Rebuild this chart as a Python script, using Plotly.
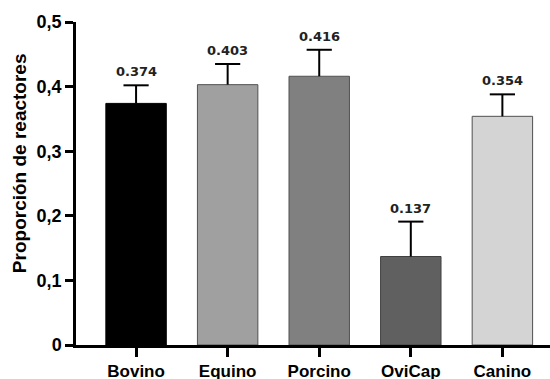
import plotly.graph_objects as go

categories = ["Bovino", "Equino", "Porcino", "OviCap", "Canino"]
values = [0.374, 0.403, 0.416, 0.137, 0.354]
errors = [0.028, 0.032, 0.041, 0.054, 0.034]
bar_colors = ["#000000", "#a0a0a0", "#808080", "#606060", "#d4d4d4"]
line_colors = ["#000000", "#505050", "#505050", "#404040", "#505050"]
value_labels = ["0.374", "0.403", "0.416", "0.137", "0.354"]
y_tickvals = [0, 0.1, 0.2, 0.3, 0.4, 0.5]
y_ticktext = ["0", "0,1", "0,2", "0,3", "0,4", "0,5"]
y_title = "Proporción de reactores"

xs = list(range(len(categories)))
tops = [v + e for v, e in zip(values, errors)]

fig = go.Figure()
fig.add_trace(go.Bar(
    x=xs, y=values,
    marker=dict(color=bar_colors, line=dict(color=line_colors, width=1)),
    width=0.66, hoverinfo="skip",
))
# upper error bars: stem from bar top to value+error, cap at the top
fig.add_trace(go.Scatter(
    x=xs, y=tops, mode="markers",
    marker=dict(symbol="line-ew-open", size=18, color="#000000",
                line=dict(color="#000000", width=2)),
    error_y=dict(type="data", array=[0] * len(errors), arrayminus=errors,
                 symmetric=False, color="#000000", thickness=2, width=0),
    hoverinfo="skip",
))

for xi, top, lab in zip(xs, tops, value_labels):
    fig.add_annotation(
        x=xi, y=top, text="<b>%s</b>" % lab, showarrow=False,
        yanchor="bottom", yshift=4,
        font=dict(family="DejaVu Sans", size=13, color="#222222"),
    )

fig.add_annotation(
    text="<b>%s</b>" % y_title, textangle=-90, showarrow=False,
    xref="paper", yref="paper", x=0, y=0.563, xanchor="center", yanchor="middle",
    xshift=-57, font=dict(size=19, family="Liberation Sans, Arial", color="#000000"),
)

fig.update_layout(
    width=550, height=379,
    margin=dict(l=76, r=0, t=22, b=34),
    plot_bgcolor="white", paper_bgcolor="white",
    showlegend=False,
    font=dict(family="Liberation Sans, Arial", color="#000000"),
)
fig.update_xaxes(
    range=[-0.656, 4.52], automargin=False,
    tickvals=xs, ticktext=["<b>%s</b>" % c for c in categories],
    showline=True, linecolor="#000000", linewidth=2.5,
    ticks="outside", ticklen=9, tickwidth=2.5, tickcolor="#000000",
    tickfont=dict(size=17, family="Liberation Sans, Arial"),
    showgrid=False, zeroline=False, ticklabelstandoff=0,
)
fig.update_yaxes(
    range=[0, 0.5], automargin=False,
    tickvals=y_tickvals, ticktext=["<b>%s</b>" % t for t in y_ticktext],
    showline=True, linecolor="#000000", linewidth=2.5,
    ticks="outside", ticklen=8, tickwidth=2.5, tickcolor="#000000",
    tickfont=dict(size=18, family="Liberation Sans, Arial"),
    showgrid=False, zeroline=False,
)

fig.write_html("out.html", config={"displayModeBar": False},
               post_script="document.body.style.margin='0';")
